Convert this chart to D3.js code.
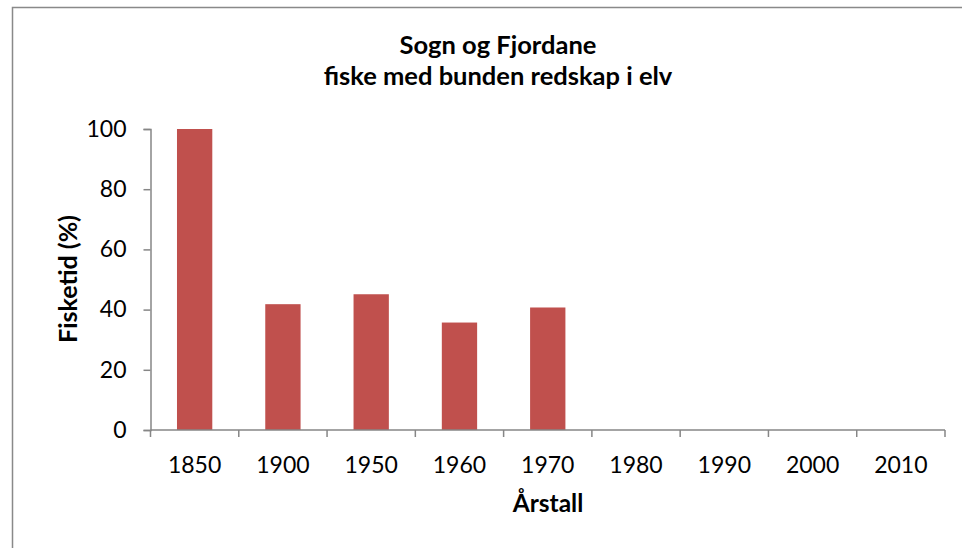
<!DOCTYPE html>
<html>
<head>
<meta charset="utf-8">
<script src="https://cdn.jsdelivr.net/npm/d3@7"></script>
<style>
  body { margin: 0; background: #fff; }
  text { font-family: Lato, "Open Sans", sans-serif; fill: #000; }
</style>
</head>
<body>
<svg id="chart" width="962" height="548"></svg>
<script>
var years = ["1850", "1900", "1950", "1960", "1970", "1980", "1990", "2000", "2010"];
var values = [100, 41.8, 45.1, 35.7, 40.7, null, null, null, null];
var yTicks = [0, 20, 40, 60, 80, 100];
var titleLines = ["Sogn og Fjordane", "fiske med bunden redskap i elv"];

var svg = d3.select("#chart");
var margin = { left: 150.5, right: 17 };
var W = 962, H = 548;

// chart frame
svg.append("rect")
  .attr("x", 12.5).attr("y", 7.5)
  .attr("width", 960).attr("height", 560)
  .attr("fill", "none").attr("stroke", "#898989").attr("stroke-width", 1.5);

var x = d3.scaleBand().domain(years)
  .range([margin.left, W - margin.right])
  .paddingInner(0.6).paddingOuter(0.3);
var y = d3.scaleLinear().domain([0, 100]).range([430, 129]);

svg.selectAll("rect.bar")
  .data(years.map(function (d, i) { return { year: d, v: values[i] }; })
    .filter(function (d) { return d.v != null; }))
  .enter().append("rect")
  .attr("class", "bar")
  .attr("x", function (d) { return x(d.year); })
  .attr("y", function (d) { return y(d.v); })
  .attr("width", x.bandwidth())
  .attr("height", function (d) { return y(0) - y(d.v); })
  .attr("fill", "#C0504D");

var axisColor = "#868686";

// y axis
var yAxis = svg.append("g")
  .attr("transform", "translate(" + margin.left + ",0)")
  .call(d3.axisLeft(y).tickValues(yTicks).tickSize(7).tickPadding(17));
yAxis.select(".domain").attr("stroke", axisColor).attr("stroke-width", 1.5);
yAxis.selectAll(".tick line").attr("stroke", axisColor).attr("stroke-width", 1.5);
yAxis.selectAll(".tick text").attr("font-size", 23).attr("font-family", "Lato, 'Open Sans', sans-serif").attr("fill", "#000");

// x axis: ticks on category boundaries
var x0 = margin.left;
var boundaries = d3.range(years.length + 1).map(function (i) { return x0 + i * (W - margin.right - x0) / years.length; });
var xg = svg.append("g");
xg.append("line")
  .attr("x1", boundaries[0]).attr("x2", boundaries[boundaries.length - 1])
  .attr("y1", y(0)).attr("y2", y(0))
  .attr("stroke", axisColor).attr("stroke-width", 1.5);
xg.selectAll("line.tk").data(boundaries).enter().append("line")
  .attr("class", "tk")
  .attr("x1", function (d) { return d; }).attr("x2", function (d) { return d; })
  .attr("y1", y(0)).attr("y2", y(0) + 7)
  .attr("stroke", axisColor).attr("stroke-width", 1.5);
xg.selectAll("text").data(years).enter().append("text")
  .attr("x", function (d) { return x(d) + x.bandwidth() / 2; })
  .attr("y", 473)
  .attr("text-anchor", "middle")
  .attr("font-size", 23)
  .text(function (d) { return d; });

// titles
svg.selectAll("text.title").data(titleLines).enter().append("text")
  .attr("class", "title")
  .attr("x", 498).attr("y", function (d, i) { return 54 + i * 31; })
  .attr("text-anchor", "middle")
  .attr("font-size", 25.5).attr("font-weight", "bold")
  .text(function (d) { return d; });

svg.append("text")
  .attr("x", 548).attr("y", 512)
  .attr("text-anchor", "middle")
  .attr("font-size", 24.5).attr("font-weight", "bold")
  .text("Årstall");

svg.append("text")
  .attr("transform", "translate(68,279) rotate(-90)")
  .attr("text-anchor", "middle")
  .attr("dy", "0.35em")
  .attr("font-size", 25).attr("font-weight", "bold")
  .text("Fisketid (%)");
</script>
</body>
</html>
